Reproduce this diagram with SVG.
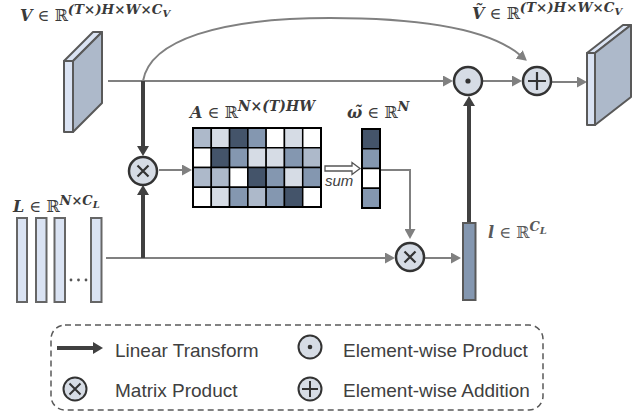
<svg xmlns="http://www.w3.org/2000/svg" width="637" height="413" viewBox="0 0 637 413">
<style>
.m{font-family:"DejaVu Serif","Liberation Serif",serif;font-size:16px;fill:#3a3a3a}
.bi{font-weight:bold;font-style:italic}
.lg{font-family:"Liberation Sans",Arial,sans-serif;font-size:19px;fill:#404040}
.conn{fill:none;stroke:#808080;stroke-width:2}
.thick{fill:none;stroke:#404040;stroke-width:4}
.op{fill:#d6dce5;stroke:#333;stroke-width:2.5}
.sym{stroke:#333;stroke-width:2.2;fill:none}
.front{fill:#dae3f3;stroke:#595959;stroke-width:2;stroke-linejoin:round}
.side{fill:#adb9ca;stroke:#595959;stroke-width:2;stroke-linejoin:round}
.cell{stroke:#000;stroke-width:1.5}
.D{fill:#44546a}.M{fill:#8497b0}.L{fill:#adb9ca}.VL{fill:#d6dce5}.W{fill:#fff}
.bar{fill:#dae3f3;stroke:#666;stroke-width:2}
</style>
<defs>
<marker id="ag" viewBox="0 0 10 11" refX="1" refY="5.5" markerWidth="10" markerHeight="11" markerUnits="userSpaceOnUse" orient="auto"><path d="M0,0 L10,5.5 L0,11 z" fill="#808080"/></marker>
<marker id="ad" viewBox="0 0 10 12" refX="1" refY="6" markerWidth="10" markerHeight="12" markerUnits="userSpaceOnUse" orient="auto"><path d="M0,0 L10,6 L0,12 z" fill="#404040"/></marker>
</defs>

<!-- labels -->
<text class="m" x="20" y="21"><tspan class="bi">V</tspan> ∈ ℝ<tspan class="bi" font-size="13.4" dy="-7">(T×)H×W×C</tspan><tspan class="bi" font-size="10" dy="3">V</tspan></text>
<text class="m" x="472" y="19"><tspan class="bi">Ṽ</tspan> ∈ ℝ<tspan class="bi" font-size="13.4" dy="-7">(T×)H×W×C</tspan><tspan class="bi" font-size="10" dy="3">V</tspan></text>
<text class="m" x="190" y="118"><tspan class="bi">A</tspan> ∈ ℝ<tspan class="bi" font-size="14" dy="-7">N×(T)HW</tspan></text>
<text class="m" x="347" y="118"><tspan class="bi">ω̃</tspan> ∈ ℝ<tspan class="bi" font-size="13" dy="-7">N</tspan></text>
<text class="m" x="13" y="212"><tspan class="bi">L</tspan> ∈ ℝ<tspan class="bi" font-size="13" dy="-7">N×C</tspan><tspan class="bi" font-size="10" dy="3">L</tspan></text>
<text class="m" x="488" y="238" style="fill:#595959"><tspan class="bi">l</tspan> ∈ ℝ<tspan class="bi" font-size="13" dy="-7">C</tspan><tspan class="bi" font-size="10" dy="3">L</tspan></text>

<g id="connectors">
<path class="conn" d="M108,81 L444,81" marker-end="url(#ag)"/>
<path class="conn" d="M143,81 C150,40 220,18 330,18 C425,18 490,30 520,55" marker-end="url(#ag)"/>
<path class="conn" d="M483,81 L513,81" marker-end="url(#ag)"/>
<path class="conn" d="M552,82 L578,82" marker-end="url(#ag)"/>
<path class="conn" d="M159,170 L183,170" marker-end="url(#ag)"/>
<path class="conn" d="M381,170 L410,170 L410,230" marker-end="url(#ag)"/>
<path class="conn" d="M106,258 L386,258" marker-end="url(#ag)"/>
<path class="conn" d="M425,258 L452,258" marker-end="url(#ag)"/>
<path class="thick" d="M143,81 L143,147" marker-end="url(#ad)"/>
<path class="thick" d="M143,258 L143,194" marker-end="url(#ad)"/>
<path class="thick" d="M469,222 L469,105" marker-end="url(#ad)"/>
<polygon points="325,166 352,166 352,162.5 360,168.5 352,174.5 352,171 325,171" fill="#fff" stroke="#555" stroke-width="1.3"/>
<text x="325" y="186" style="font-family:'Liberation Sans',Arial,sans-serif;font-style:italic;font-size:15px;fill:#404040">sum</text>
</g>

<g id="V">
<polygon class="front" points="64,61 93,32 102,32 73,61"/>
<polygon class="side" points="73,61 102,32 102,103 73,132"/>
<rect class="front" x="64" y="61" width="9" height="71"/>
</g>

<g id="Vout">
<polygon class="front" points="587,53 623,25 631,25 595,53"/>
<polygon class="side" points="595,53 631,25 631,97 595,125"/>
<rect class="front" x="587" y="53" width="8" height="72"/>
</g>

<g id="matmul1">
<circle class="op" cx="143" cy="171" r="14"/>
<path class="sym" d="M137.5,165.5 L148.5,176.5 M148.5,165.5 L137.5,176.5"/>
</g>
<g id="matmul2">
<circle class="op" cx="410" cy="257" r="14"/>
<path class="sym" d="M404.5,251.5 L415.5,262.5 M415.5,251.5 L404.5,262.5"/>
</g>
<g id="dot">
<circle class="op" cx="468" cy="81" r="14"/>
<circle cx="468" cy="81" r="2.6" fill="#333"/>
</g>
<g id="plus">
<circle class="op" cx="537" cy="81" r="14"/>
<path class="sym" d="M528,81 L546,81 M537,72 L537,90"/>
</g>

<g id="A">
<rect class="cell L" x="193" y="128" width="18.29" height="19.75"/>
<rect class="cell VL" x="211.29" y="128" width="18.29" height="19.75"/>
<rect class="cell D" x="229.57" y="128" width="18.29" height="19.75"/>
<rect class="cell M" x="247.86" y="128" width="18.29" height="19.75"/>
<rect class="cell W" x="266.14" y="128" width="18.29" height="19.75"/>
<rect class="cell VL" x="284.43" y="128" width="18.29" height="19.75"/>
<rect class="cell W" x="302.71" y="128" width="18.29" height="19.75"/>
<rect class="cell W" x="193" y="147.75" width="18.29" height="19.75"/>
<rect class="cell D" x="211.29" y="147.75" width="18.29" height="19.75"/>
<rect class="cell M" x="229.57" y="147.75" width="18.29" height="19.75"/>
<rect class="cell VL" x="247.86" y="147.75" width="18.29" height="19.75"/>
<rect class="cell VL" x="266.14" y="147.75" width="18.29" height="19.75"/>
<rect class="cell M" x="284.43" y="147.75" width="18.29" height="19.75"/>
<rect class="cell L" x="302.71" y="147.75" width="18.29" height="19.75"/>
<rect class="cell L" x="193" y="167.5" width="18.29" height="19.75"/>
<rect class="cell L" x="211.29" y="167.5" width="18.29" height="19.75"/>
<rect class="cell W" x="229.57" y="167.5" width="18.29" height="19.75"/>
<rect class="cell D" x="247.86" y="167.5" width="18.29" height="19.75"/>
<rect class="cell M" x="266.14" y="167.5" width="18.29" height="19.75"/>
<rect class="cell VL" x="284.43" y="167.5" width="18.29" height="19.75"/>
<rect class="cell M" x="302.71" y="167.5" width="18.29" height="19.75"/>
<rect class="cell W" x="193" y="187.25" width="18.29" height="19.75"/>
<rect class="cell VL" x="211.29" y="187.25" width="18.29" height="19.75"/>
<rect class="cell M" x="229.57" y="187.25" width="18.29" height="19.75"/>
<rect class="cell L" x="247.86" y="187.25" width="18.29" height="19.75"/>
<rect class="cell M" x="266.14" y="187.25" width="18.29" height="19.75"/>
<rect class="cell D" x="284.43" y="187.25" width="18.29" height="19.75"/>
<rect class="cell W" x="302.71" y="187.25" width="18.29" height="19.75"/>
<rect x="193" y="128" width="128" height="79" fill="none" stroke="#000" stroke-width="2"/>
</g>

<g id="omega">
<rect class="cell D" x="362" y="129" width="18" height="19.75"/>
<rect class="cell M" x="362" y="148.75" width="18" height="19.75"/>
<rect class="cell W" x="362" y="168.5" width="18" height="19.75"/>
<rect class="cell M" x="362" y="188.25" width="18" height="19.75"/>
<rect x="362" y="129" width="18" height="79" fill="none" stroke="#000" stroke-width="2"/>
</g>

<g id="Lset">
<rect class="bar" x="17" y="218" width="10" height="84"/>
<rect class="bar" x="36" y="218" width="10.5" height="84"/>
<rect class="bar" x="54.5" y="218" width="10.5" height="84"/>
<rect class="bar" x="91" y="218" width="10.5" height="84"/>
<circle cx="71" cy="280" r="1.4" fill="#555"/>
<circle cx="78.5" cy="280" r="1.4" fill="#555"/>
<circle cx="86" cy="280" r="1.4" fill="#555"/>
</g>

<g id="lvec">
<rect x="463" y="223" width="12.5" height="77" fill="#8497b0" stroke="#595959" stroke-width="2"/>
</g>

<g id="legend">
<rect x="51" y="325" width="492" height="85" rx="14" fill="none" stroke="#595959" stroke-width="1.5" stroke-dasharray="6,4"/>
<path class="thick" d="M57,348 L94,348" marker-end="url(#ad)"/>
<text class="lg" x="115" y="357">Linear Transform</text>
<circle class="op" cx="75" cy="389" r="11.5" style="stroke-width:2"/>
<path class="sym" d="M69.5,383.5 L80.5,394.5 M80.5,383.5 L69.5,394.5" style="stroke-width:2"/>
<text class="lg" x="115" y="397">Matrix Product</text>
<circle class="op" cx="310" cy="347" r="11.5" style="stroke-width:2"/>
<circle cx="310" cy="347" r="2.3" fill="#333"/>
<text class="lg" x="343" y="357">Element-wise Product</text>
<circle class="op" cx="310" cy="389" r="11.5" style="stroke-width:2"/>
<path class="sym" d="M302,389 L318,389 M310,381 L310,397" style="stroke-width:2"/>
<text class="lg" x="343" y="397">Element-wise Addition</text>
</g>
</svg>
